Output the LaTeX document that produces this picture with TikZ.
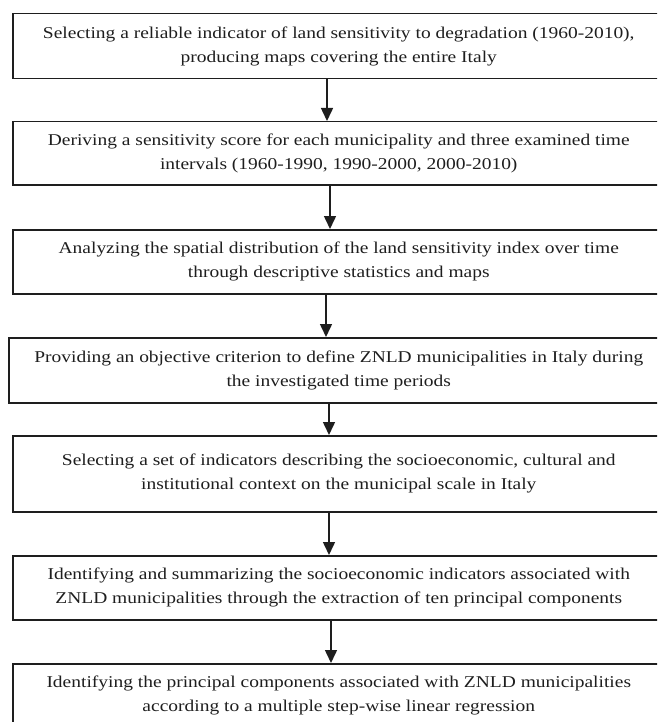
\documentclass[tikz,border=0pt]{standalone}
\usepackage{fontspec}
\setmainfont{Liberation Serif}[FakeStretch=1.18]
\usetikzlibrary{arrows.meta}
\definecolor{ink}{HTML}{1E1E1E}
\tikzset{
  stepbox/.style={draw=ink, line width=1.5pt, anchor=north west, align=center,
    inner sep=0pt, text=ink, font=\fontsize{16.5}{24}\selectfont},
  flow/.style={draw=ink, line width=1.5pt, -{Triangle[length=13pt,width=12pt]}}
}
\begin{document}
\begin{tikzpicture}[x=1pt,y=-1pt]
\useasboundingbox (0,0) rectangle (657,722);
\clip (0,0) rectangle (657,722);
\node[stepbox, minimum width=652pt, minimum height=65pt] (b1) at (12,13)
  {Selecting a reliable indicator of land sensitivity to degradation (1960-2010),\\ producing maps covering the entire Italy};
\node[stepbox, minimum width=652pt, minimum height=63pt] (b2) at (12,121)
  {Deriving a sensitivity score for each municipality and three examined time\\ intervals (1960-1990, 1990-2000, 2000-2010)};
\node[stepbox, minimum width=652pt, minimum height=64pt] (b3) at (12,229)
  {Analyzing the spatial distribution of the land sensitivity index over time\\ through descriptive statistics and maps};
\node[stepbox, minimum width=660pt, minimum height=65pt] (b4) at (8,337)
  {Providing an objective criterion to define ZNLD municipalities in Italy during\\ the investigated time periods};
\node[stepbox, minimum width=652pt, minimum height=76pt] (b5) at (12,435)
  {Selecting a set of indicators describing the socioeconomic, cultural and\\ institutional context on the municipal scale in Italy};
\node[stepbox, minimum width=652pt, minimum height=64pt] (b6) at (12,555)
  {Identifying and summarizing the socioeconomic indicators associated with\\ ZNLD municipalities through the extraction of ten principal components};
\node[stepbox, minimum width=652pt, minimum height=64pt] (b7) at (12,663)
  {Identifying the principal components associated with ZNLD municipalities\\ according to a multiple step-wise linear regression};
\coordinate (x1) at (327,0);
\coordinate (x2) at (330,0);
\coordinate (x3) at (326,0);
\coordinate (x4) at (329,0);
\coordinate (x5) at (329,0);
\coordinate (x6) at (331,0);
\draw[flow] (b1.south -| x1) -- (b2.north -| x1);
\draw[flow] (b2.south -| x2) -- (b3.north -| x2);
\draw[flow] (b3.south -| x3) -- (b4.north -| x3);
\draw[flow] (b4.south -| x4) -- (b5.north -| x4);
\draw[flow] (b5.south -| x5) -- (b6.north -| x5);
\draw[flow] (b6.south -| x6) -- (b7.north -| x6);
\end{tikzpicture}
\end{document}
